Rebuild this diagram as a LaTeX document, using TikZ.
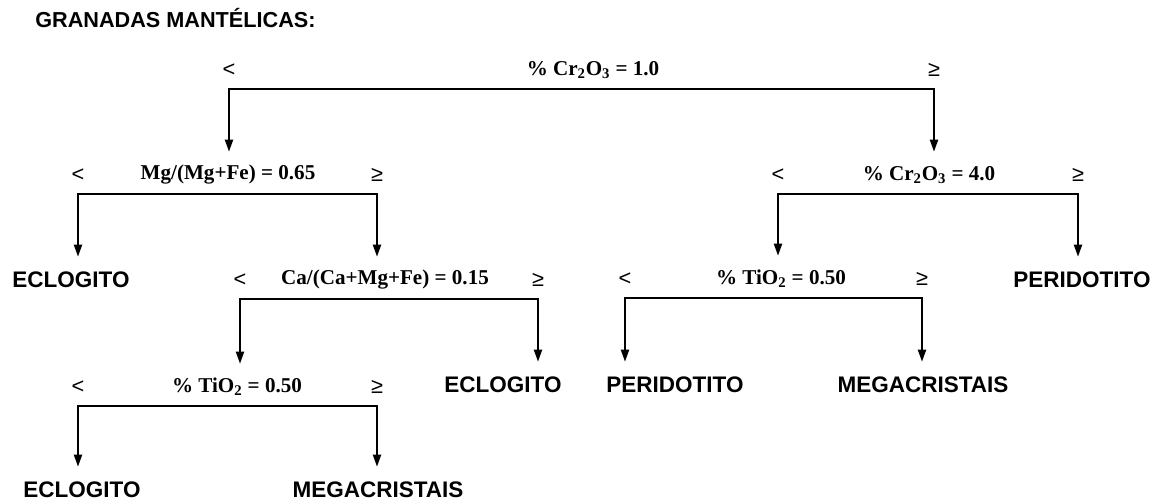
\documentclass[tikz,border=0pt]{standalone}
\usepackage{fontspec}
\setmainfont{Liberation Serif}
\setsansfont{Liberation Sans}
\usepackage{tikz}
\usetikzlibrary{arrows.meta}
\tikzset{
 test/.style={font=\bfseries\fontsize{15}{18}\selectfont,minimum height=1.15cm,inner sep=0pt},
 leaf/.style={font=\sffamily\bfseries\fontsize{16}{19}\selectfont,minimum height=1.15cm,inner sep=0pt},
 sign/.style={font=\sffamily\fontsize{15.5}{18}\selectfont,minimum height=0.95cm,inner sep=0pt},
 fork/.style={{Triangle[length=3mm,width=2mm]}-{Triangle[length=3mm,width=2mm]},line width=1.4pt}
}

\begin{document}
\begin{tikzpicture}[x=0.025cm,y=-0.025cm]
\useasboundingbox (0,0) rectangle (1164,502);
\node[leaf,font=\sffamily\bfseries\fontsize{15.4}{18}\selectfont,anchor=west] (title) at (35,18) {GRANADAS MANTÉLICAS:};
% tests
\node[test] (cr1) at (593,70) {\% Cr\textsubscript{2}O\textsubscript{3} = 1.0};
\node[sign] (lt1) at (229,70) {<};
\node[sign] (ge1) at (934,70) {≥};
\node[test] (mg) at (228,175) {Mg/(Mg+Fe) = 0.65};
\node[sign] (lt2) at (78,175) {<};
\node[sign] (ge2) at (377,175) {≥};
\node[test] (cr4) at (929,175) {\% Cr\textsubscript{2}O\textsubscript{3} = 4.0};
\node[sign] (lt3) at (778,175) {<};
\node[sign] (ge3) at (1078,175) {≥};
\node[test] (ca) at (385,280) {Ca/(Ca+Mg+Fe) = 0.15};
\node[sign] (lt4) at (240,280) {<};
\node[sign] (ge4) at (538,280) {≥};
\node[test] (ti1) at (781,279) {\% TiO\textsubscript{2} = 0.50};
\node[sign] (lt5) at (625,279) {<};
\node[sign] (ge5) at (922,279) {≥};
\node[test] (ti2) at (237,387) {\% TiO\textsubscript{2} = 0.50};
\node[sign] (lt6) at (78,387) {<};
\node[sign] (ge6) at (377,387) {≥};
% results
\node[leaf] (ecl1) at (71,280) {ECLOGITO};
\node[leaf] (peri1) at (1082,280) {PERIDOTITO};
\node[leaf] (ecl2) at (503,385) {ECLOGITO};
\node[leaf] (peri2) at (675,385) {PERIDOTITO};
\node[leaf] (mega1) at (923,385) {MEGACRISTAIS};
\node[leaf] (ecl3) at (82,490) {ECLOGITO};
\node[leaf] (mega2) at (378,490) {MEGACRISTAIS};
\foreach \l/\g/\a/\b in {lt1/ge1/mg/cr4,lt2/ge2/ecl1/ca,lt3/ge3/ti1/peri1,lt4/ge4/ti2/ecl2,lt5/ge5/peri2/mega1,lt6/ge6/ecl3/mega2}
 \draw[fork] (\a.north -| \l) -- (\l.south) -- (\g.south) -- (\b.north -| \g);
\end{tikzpicture}
\end{document}
